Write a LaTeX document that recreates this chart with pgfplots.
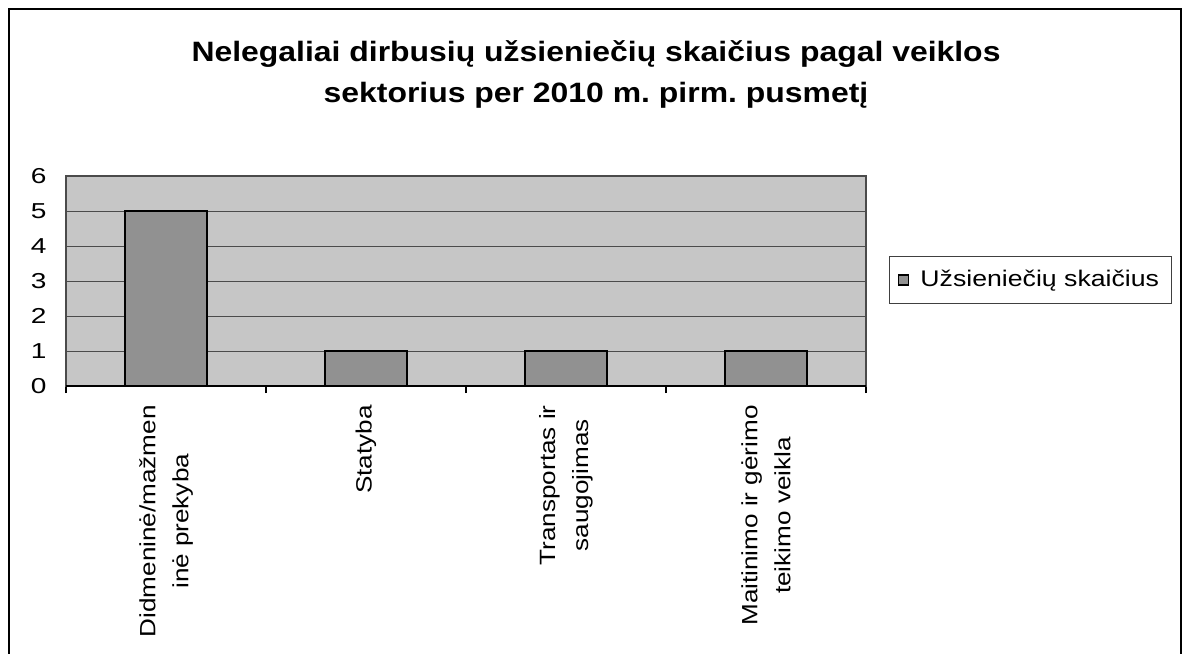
\documentclass[border=0pt]{standalone}
\usepackage{fontspec}
\setmainfont{Liberation Sans}
\newfontfamily\titlefont{Liberation Sans}[FakeStretch=1.14]
\newfontfamily\labfont{Liberation Sans}[FakeStretch=1.18]
\newfontfamily\tickfont{Liberation Sans}[FakeStretch=1.3]
\usepackage{pgfplots}
\pgfplotsset{compat=1.18}
\definecolor{plotbg}{RGB}{198,198,198}
\definecolor{barfill}{RGB}{145,145,145}
\definecolor{gridc}{RGB}{75,75,75}
\frenchspacing
\begin{document}
\begin{tikzpicture}
\useasboundingbox (-33pt,-134pt) rectangle (559.5pt,193pt);
\draw[line width=1pt] (-28.5pt,-140pt) -- (-28.5pt,188.5pt) -- (557.5pt,188.5pt) -- (557.5pt,-140pt);
\node[font=\titlefont\fontsize{14}{18}\selectfont\bfseries, anchor=base] at (265pt,162pt) {Nelegaliai dirbusių užsieniečių skaičius pagal veiklos};
\node[font=\titlefont\fontsize{14}{18}\selectfont\bfseries, anchor=base] at (265pt,142pt) {sektorius per 2010 m. pirm. pusmetį};
\begin{axis}[
  at={(0pt,0pt)}, anchor=south west,
  scale only axis,
  width=400pt, height=105pt,
  xmin=-0.5, xmax=3.5,
  ymin=0, ymax=6,
  ytick={0,1,2,3,4,5,6},
  xtick={0,1,2,3},
  xticklabels={{Didmeninė/mažmen\\inė prekyba},{Statyba},{Transportas ir\\saugojimas},{Maitinimo ir gėrimo\\teikimo veikla}},
  minor xtick={-0.5,0.5,1.5,2.5,3.5},
  major tick length=0pt,
  minor tick length=3.5pt,
  tick align=outside,
  tick pos=left,
  minor tick style={black, line width=0.6pt},
  ymajorgrids,
  major grid style={gridc, line width=0.5pt},
  axis line style={gridc, line width=0.6pt},
  axis background/.style={fill=plotbg},
  /pgf/number format/assume math mode=true,
  yticklabel style={font=\tickfont\fontsize{10.8}{12}\selectfont, anchor=east, inner sep=0pt, xshift=-9.5pt},
  xticklabel style={font=\labfont\fontsize{11.05}{16.5}\selectfont, rotate=90, anchor=east, align=center, inner sep=0pt},
  xticklabel shift=9.5pt,
  legend style={at={(1.2056,0.505)}, anchor=center, draw=black!75, line width=0.5pt,
    font=\labfont\fontsize{11.3}{14}\selectfont, inner xsep=4pt, inner ysep=5pt, fill=white},
  legend cell align=left,
]
\addplot[ybar, bar width=41pt, fill=barfill, draw=black, line width=1pt,
  legend image code/.code={\draw[fill=barfill, draw=black, line width=0.8pt] (0pt,-2.5pt) rectangle (5pt,2.5pt);}]
  coordinates {(0,5) (1,1) (2,1) (3,1)};
\addlegendentry{\hspace{3.5pt}Užsieniečių skaičius}
\draw[black, line width=1pt] (axis cs:-0.5,0) -- (axis cs:3.5,0);
\end{axis}
\end{tikzpicture}
\end{document}
